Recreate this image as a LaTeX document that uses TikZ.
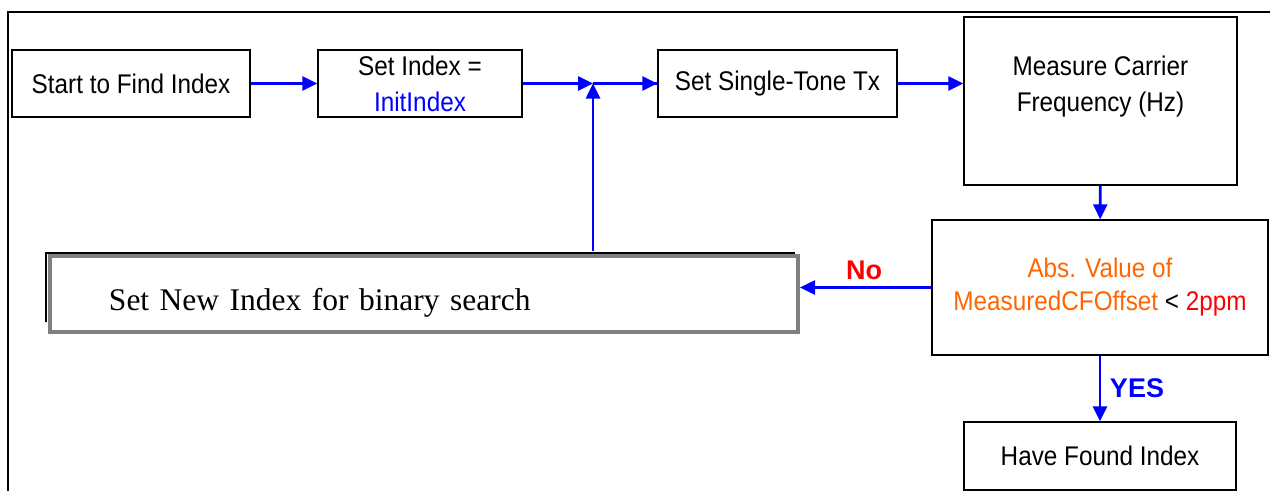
\documentclass[tikz,border=0pt]{standalone}
\usepackage{fontspec}
\setmainfont[FakeStretch=0.9]{Liberation Sans}
\newfontfamily\lblfont{Liberation Sans}
\newfontfamily\tms{Liberation Serif}
\usetikzlibrary{arrows.meta}
\definecolor{arrblue}{RGB}{0,0,255}
\definecolor{orng}{RGB}{255,102,0}
\definecolor{rd}{RGB}{255,0,0}
\definecolor{gbox}{RGB}{128,128,128}
\tikzset{
  box/.style={draw=black, line width=1.3pt, fill=white, inner sep=0pt, align=center,
    font=\fontsize{27}{36}\selectfont},
  flow/.style={draw=arrblue, line width=2.6pt, -{Triangle[length=15pt,width=14pt]}},
  lbl/.style={font=\lblfont\fontsize{27}{30}\selectfont\bfseries, inner sep=0pt},
}
\begin{document}
\begin{tikzpicture}[x=1pt,y=-1pt]
\useasboundingbox (0,0) rectangle (1270,491);
% outer frame (cropped)
\draw[line width=2pt] (1270,12) -- (8,12) -- (8,491);

\node[box, minimum width=238pt, minimum height=67pt] (start) at (131,83.5) {Start to Find Index};
\node[box, minimum width=204pt, minimum height=67pt] (setidx) at (420,83.5) {Set Index =\\\textcolor{arrblue}{InitIndex}};
\node[box, minimum width=239pt, minimum height=67pt] (single) at (777.5,83.5) {Set Single-Tone Tx};
\node[box, minimum width=273pt, minimum height=168pt] (meas) at (1100.5,101) {Measure Carrier\\Frequency (Hz)\\[-2pt]\mbox{}};
\node[box, minimum width=336pt, minimum height=135pt, font=\fontsize{27}{33}\selectfont] (dec) at (1100,287.5) {\textcolor{orng}{Abs. Value of}\\\textcolor{orng}{MeasuredCFOffset} < \textcolor{rd}{2ppm}};
\node[box, minimum width=272pt, minimum height=68pt] (found) at (1100,456) {Have Found Index};

% Set New Index box: thin black outline behind, thick gray box on top
\draw[line width=1.3pt] (46,322) -- (46,253) -- (795,253);
\node[draw=gbox, line width=4pt, fill=white, inner sep=0pt, minimum width=748pt, minimum height=76pt,
  font=\tms\fontsize{31.5}{36}\selectfont, text width=730pt, align=left] (newidx) at (424,294)
  {\hspace*{50pt}\rule{0pt}{40pt}Set New Index for binary search};

\coordinate (j) at (593,83.5);

\draw[flow] (start) -- (setidx);
\draw[flow] (setidx) -- (j);
\draw[draw=arrblue, line width=2.6pt] (j) -- (single);
\draw[flow] (j) -- (single);
\draw[flow] (single.east) -- (single.east -| meas.west);
\draw[flow] (meas) -- (dec);
\draw[flow] (dec.west) -- (dec.west -| newidx.east);
\draw[flow] (dec) -- (found);
\draw[flow] (newidx.north -| j) ++(0,-3) -- (j);

\node[lbl, text=rd] (no) at (864,270) {No};
\node[lbl, text=arrblue] (yes) at (1137,388) {YES};
\end{tikzpicture}
\end{document}
